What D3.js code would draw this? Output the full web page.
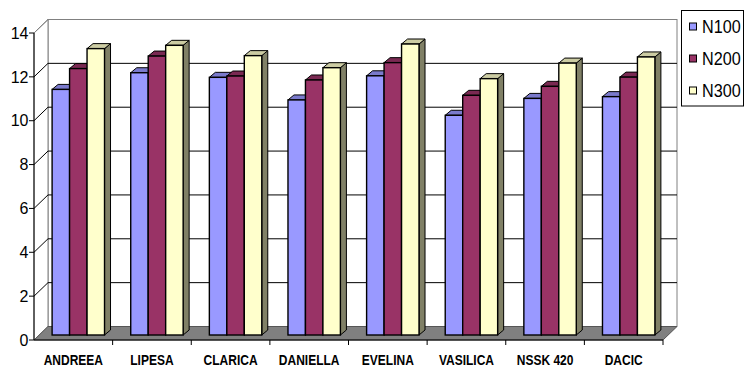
<!DOCTYPE html>
<html><head><meta charset="utf-8">
<script src="https://cdn.jsdelivr.net/npm/d3@7"></script>
<style>html,body{margin:0;padding:0;background:#fff;}svg{display:block;}</style>
</head><body>
<svg id="chart" width="744" height="368"></svg>
<script>
const categories = ["ANDREEA","LIPESA","CLARICA","DANIELLA","EVELINA","VASILICA","NSSK 420","DACIC"];
const seriesNames = ["N100","N200","N300"];
const N100 = [11.20, 11.96, 11.75, 10.72, 11.82, 10.02, 10.79, 10.87];
const N200 = [12.15, 12.72, 11.81, 11.63, 12.42, 10.93, 11.34, 11.76];
const N300 = [13.06, 13.21, 12.74, 12.19, 13.27, 11.69, 12.40, 12.68];
const yTicks = [0,2,4,6,8,10,12,14];
const seriesValues = [N100, N200, N300];
const colors = {N100:"#9999FF", N200:"#993366", N300:"#FFFFCC"};

const svg = d3.select("#chart");
const font = "'Liberation Sans', Arial, sans-serif";

// geometry
const x0 = 34, x1 = 663, yBottom = 340, yTop = 33;
const wdx = 14, wdy = -13.5;          // wall depth offset
const bfx = 5, bfy = -5;              // bar front plane offset
const bdx = 6, bdy = -5;              // bar depth

const y = d3.scaleLinear().domain([0,14]).range([yBottom, yTop]);
const x = d3.scaleBand().domain(categories).range([x0, x1]).padding(0);
const bw = x.bandwidth();
const gap = bw * 1.5 / 4.5;
const xs = d3.scaleBand().domain(seriesNames).range([gap/2, bw - gap/2]).padding(0);

const g = svg.append("g");

// back wall
g.append("rect").attr("x", x0+wdx).attr("y", y(14)+wdy)
  .attr("width", x1 - x0).attr("height", y(0) - y(14))
  .attr("fill", "#fff").attr("stroke", "#808080").attr("stroke-width", 1);
// left wall
g.append("path").attr("d", `M${x0},${y(0)}L${x0+wdx},${y(0)+wdy}L${x0+wdx},${y(14)+wdy}L${x0},${y(14)}Z`)
  .attr("fill", "#fff").attr("stroke", "#808080").attr("stroke-width", 1);

// gridlines on back wall and left wall
yTicks.filter(t => t > 0 && t < 14).forEach(t => {
  g.append("line").attr("x1", x0+wdx).attr("x2", x1+wdx).attr("y1", y(t)+wdy).attr("y2", y(t)+wdy)
    .attr("stroke", "#000").attr("stroke-width", 1);
});
yTicks.filter(t => t > 0).forEach(t => {
  g.append("line").attr("x1", x0).attr("y1", y(t)).attr("x2", x0+wdx).attr("y2", y(t)+wdy)
    .attr("stroke", t === 14 ? "#808080" : "#000").attr("stroke-width", 1);
});

// floor
g.append("path").attr("d", `M${x0},${y(0)}L${x0+wdx},${y(0)+wdy}L${x1+wdx},${y(0)+wdy}L${x1},${y(0)}Z`)
  .attr("fill", "#808080").attr("stroke", "#555").attr("stroke-width", 1);

// y axis
g.append("line").attr("x1", x0).attr("x2", x0).attr("y1", y(0)).attr("y2", y(14)).attr("stroke", "#000");
yTicks.forEach(t => {
  g.append("line").attr("x1", x0-5).attr("x2", x0).attr("y1", y(t)).attr("y2", y(t)).attr("stroke", "#000");
  g.append("text").attr("x", x0-5.5).attr("y", y(t)).attr("dy", "0.36em")
    .attr("text-anchor", "end").attr("font-family", font).attr("font-size", 16)
    .attr("fill", "#000").text(t);
});

// x axis
g.append("line").attr("x1", x0).attr("x2", x1).attr("y1", y(0)).attr("y2", y(0)).attr("stroke", "#000");
categories.forEach((c, i) => {
  const xe = x(c) + bw;
  g.append("line").attr("x1", xe).attr("x2", xe).attr("y1", y(0)).attr("y2", y(0)+5).attr("stroke", "#000");
  g.append("text").attr("transform", `translate(${x(c) + bw/2},365) scale(0.8,1)`)
    .attr("text-anchor", "middle").attr("font-family", font).attr("font-size", 15)
    .attr("font-weight", "bold").attr("fill", "#000").text(c);
});

// bars
function shade(col, k){ const c = d3.rgb(col); return d3.rgb(c.r*k, c.g*k, c.b*k).formatHex(); }
categories.forEach((c, i) => {
  seriesNames.forEach((s, j) => {
    const v = seriesValues[j][i];
    const L = x(c) + xs(s) + bfx, R = L + xs.bandwidth();
    const T = y(v) + bfy, B = y(0) + bfy;
    const col = colors[s];
    // side
    g.append("path").attr("d", `M${R},${B}L${R+bdx},${B+bdy}L${R+bdx},${T+bdy}L${R},${T}Z`)
      .attr("fill", shade(col, 0.5)).attr("stroke", "#000").attr("stroke-width", 1).attr("stroke-linejoin", "round");
    // top
    g.append("path").attr("d", `M${L},${T}L${L+bdx},${T+bdy}L${R+bdx},${T+bdy}L${R},${T}Z`)
      .attr("fill", shade(col, 0.8)).attr("stroke", "#000").attr("stroke-width", 1).attr("stroke-linejoin", "round");
    // front
    g.append("rect").attr("x", L).attr("y", T).attr("width", R-L).attr("height", B-T)
      .attr("fill", col).attr("stroke", "#000").attr("stroke-width", 1.4);
  });
});

// legend
const lg = svg.append("g");
lg.append("rect").attr("x", 681.5).attr("y", 10.5).attr("width", 62).attr("height", 95.5)
  .attr("fill", "#fff").attr("stroke", "#000").attr("stroke-width", 1);
seriesNames.forEach((s, j) => {
  const cy = 26.5 + j*32;
  lg.append("rect").attr("x", 689.5).attr("y", cy-3.5).attr("width", 7).attr("height", 7)
    .attr("fill", colors[s]).attr("stroke", "#000").attr("stroke-width", 1);
  lg.append("text").attr("transform", `translate(702,${cy}) scale(0.9,1)`).attr("dy", "0.36em")
    .attr("font-family", font).attr("font-size", 18).attr("fill", "#000").text(s);
});
</script>
</body></html>
